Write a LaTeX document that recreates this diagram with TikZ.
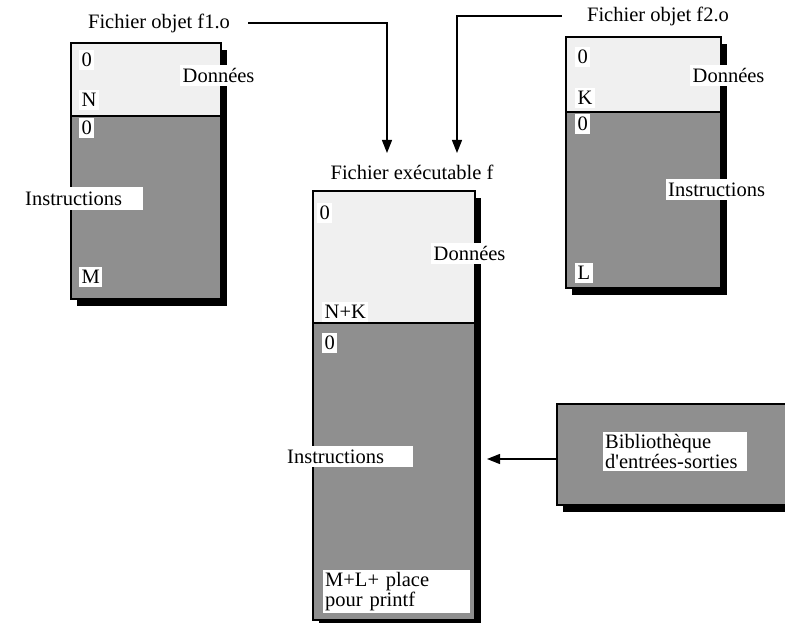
\documentclass[tikz,border=0pt]{standalone}
\usepackage{fontspec}
\setmainfont{Liberation Serif}
\usepackage{tikz}
\usetikzlibrary{arrows.meta, positioning, shadows}
\definecolor{datagray}{gray}{0.94}
\definecolor{codegray}{gray}{0.56}
\newcommand{\figfont}{\fontsize{20.5}{20}\selectfont}
\tikzset{
  part/.style={draw,line width=1.2pt,inner sep=0pt,outer sep=0pt,anchor=north west,
    drop shadow={shadow xshift=6pt,shadow yshift=-7pt,fill=black,opacity=1}},
  datapart/.style={part,fill=datagray},
  codepart/.style={part,fill=codegray},
  tag/.style={fill=white,inner xsep=2.5pt,inner ysep=3pt,anchor=north west,font=\figfont},
  wtag/.style={tag,inner xsep=2pt,inner ysep=2pt,text width=#1,align=left},
  title/.style={inner sep=0pt,font=\figfont},
  feed/.style={-{Triangle[length=13pt,width=10pt]},line width=1.3pt}
}

\begin{document}
\begin{tikzpicture}[x=1pt,y=-1pt]
  \useasboundingbox (0,0) rectangle (785,623);
  \node[datapart,minimum width=150pt,minimum height=73pt] (D1) at (71,43) {};
  \node[codepart,minimum width=150pt,minimum height=183pt] (C1) at (D1.south west) {};
  \node[datapart,minimum width=155pt,minimum height=75pt] (D2) at (566,37) {};
  \node[codepart,minimum width=155pt,minimum height=176pt] (C2) at (D2.south west) {};
  \node[datapart,minimum width=162pt,minimum height=132pt] (DX) at (313,191) {};
  \node[codepart,minimum width=162pt,minimum height=297pt] (CX) at (DX.south west) {};
  \node[codepart,minimum width=243pt,minimum height=101pt] (LIB) at (557,404) {};

  \node[tag] (D1a) at (79,50) {0};
  \node[tag] (D1n) at (180,65) {Données};
  \node[tag] (D1b) at (79,90) {N};
  \node[tag] (C1a) at (79,118) {0};
  \node[wtag=116pt,minimum height=23pt] (C1n) at (23,187) {Instructions};
  \node[tag] (C1b) at (79,267) {M};

  \node[tag] (D2a) at (575,47) {0};
  \node[tag] (D2n) at (690,65) {Données};
  \node[tag] (D2b) at (575,88) {K};
  \node[tag] (C2a) at (575,114) {0};
  \node[wtag=116pt,minimum height=21pt] (C2n) at (666,179) {Instructions};
  \node[tag] (C2b) at (575,263) {L};

  \node[tag] (DXa) at (317,203) {0};
  \node[tag] (DXn) at (431,243) {Données};
  \node[tag] (DXb) at (322,302) {N+K};
  \node[tag] (CXa) at (322,333) {0};
  \node[wtag=124pt,minimum height=21pt] (CXn) at (285,446) {Instructions};
  \node[wtag=143pt] (CXb) at (323,570) {M+L+ place\\pour printf};

  \node[wtag=140pt] (LIBn) at (603,432) {Bibliothèque\\d\textquotesingle entrées-sorties};

  \node[title] (T1) at (159,23) {Fichier objet f1.o};
  \node[title] (T2) at (658,16) {Fichier objet f2.o};
  \node[title] (TX) at (412,172) {Fichier exécutable f};

  \coordinate (E1) at (387,153);
  \coordinate (E2) at (457,153);
  \coordinate (E3) at (487,459);
  \draw[feed] ([xshift=18pt]T1.east) -| (E1);
  \draw[feed] ([xshift=-25pt]T2.west) -| (E2);
  \draw[feed] (LIB.west |- E3) -- (E3);
\end{tikzpicture}
\end{document}
